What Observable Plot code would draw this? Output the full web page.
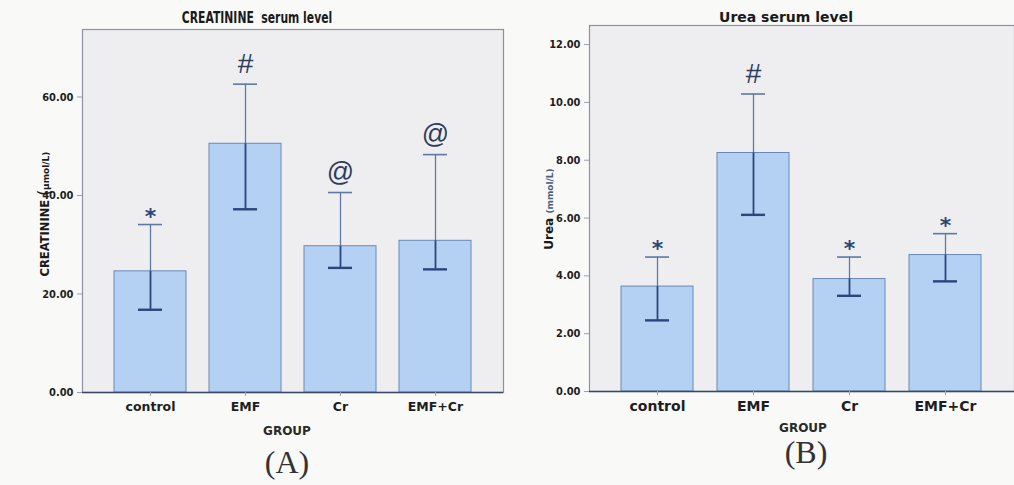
<!DOCTYPE html>
<html>
<head>
<meta charset="utf-8">
<script src="https://cdn.jsdelivr.net/npm/d3@7"></script>
<script src="https://cdn.jsdelivr.net/npm/@observablehq/plot@0.6"></script>
<style>
  html, body { margin: 0; padding: 0; background: #f9f9f7; }
  #root { position: relative; width: 1014px; height: 485px; overflow: hidden; background: #f9f9f7; }
  .abs { position: absolute; white-space: nowrap; }
  .svgwrap { position: absolute; top: 0; }
  .title { transform: translate(-50%, -50%); color: #1a1a1a; }
  .ylab { transform: translate(-50%, -50%) rotate(-90deg); color: #1a1a1a; font-family: "DejaVu Sans", sans-serif; font-weight: bold; }
  .group { transform: translate(-50%, -50%); font-family: "DejaVu Sans", sans-serif; font-weight: bold; font-size: 12px; color: #2a2a2a; }
  .panel { transform: translate(-50%, -50%); font-family: "Liberation Serif", "DejaVu Serif", serif; font-size: 32px; color: #333; }
</style>
</head>
<body>
<div id="root">
  <div id="svgA" class="svgwrap" style="left:0px"></div>
  <div id="svgB" class="svgwrap" style="left:510px"></div>
  <div class="abs title" style="left:257px; top:18px; transform:translate(-50%,-50%) scaleX(0.72); font-family:'DejaVu Sans',sans-serif; font-weight:bold; font-size:15px;">CREATININE&nbsp; serum level</div>
  <div class="abs title" style="left:786px; top:17px; font-family:'DejaVu Sans',sans-serif; font-weight:bold; font-size:14px;">Urea serum level</div>
  <div class="abs ylab" style="left:44px; top:214px; font-size:11.5px;">CREATININE <span style="font-size:15px;font-weight:normal">(</span><span style="font-size:9px">µmol/L)</span></div>
  <div class="abs ylab" style="left:549px; top:209px; font-size:12px;">Urea <span style="font-size:9px; color:#4b5f86">(mmol/L)</span></div>
  <div class="abs group" style="left:287px; top:431px;">GROUP</div>
  <div class="abs group" style="left:803px; top:428px;">GROUP</div>
  <div class="abs panel" style="left:287px; top:462px;">(A)</div>
  <div class="abs panel" style="left:806px; top:452px;">(B)</div>
</div>
<script>
// ---- data ----
const groups = ["control", "EMF", "Cr", "EMF+Cr"];

const creatMean = [24.6, 50.5, 29.7, 30.8];
const creatLow  = [16.8, 37.2, 25.3, 25.0];
const creatHigh = [34.1, 62.6, 40.6, 48.3];
const creatMarks = ["*", "#", "@", "@"];
const creatTicks = [0, 20, 40, 60];

const ureaMean = [3.63, 8.25, 3.89, 4.72];
const ureaLow  = [2.46, 6.11, 3.31, 3.81];
const ureaHigh = [4.65, 10.29, 4.65, 5.46];
const ureaMarks = ["*", "#", "*", "*"];
const ureaTicks = [0, 2, 4, 6, 8, 10, 12];

function rows(mean, low, high, marks) {
  return groups.map((g, i) => ({group: g, mean: mean[i], low: low[i], high: high[i], mark: marks[i]}));
}

function panel({data, ticks, yMax, width, height, margins, tickFont}) {
  const navy = "#2c4679";
  const light = "#5e77a3";
  return Plot.plot({
    width, height,
    marginLeft: margins[0], marginRight: margins[1], marginTop: margins[2], marginBottom: margins[3],
    style: {background: "transparent", fontFamily: "'DejaVu Sans', sans-serif", color: "#1e1e1e"},
    x: {type: "band", domain: groups, paddingInner: 0.245, paddingOuter: 0.335, label: null},
    y: {domain: [0, yMax], label: null},
    marks: [
      Plot.frame({fill: "#eeeef0", stroke: "#8a91a9", strokeWidth: 1.2}),
      Plot.barY(data, {x: "group", y: "mean", fill: "#b4d1f3", stroke: "#6a88b6", strokeWidth: 1}),
      Plot.ruleX(data, {x: "group", y1: "mean", y2: "high", stroke: light, strokeWidth: 1.3}),
      Plot.ruleX(data, {x: "group", y1: "low", y2: "mean", stroke: navy, strokeWidth: 1.8}),
      Plot.tickY(data, {x: "group", y: "high", stroke: light, strokeWidth: 1.6, insetLeft: 24, insetRight: 24}),
      Plot.tickY(data, {x: "group", y: "low", stroke: navy, strokeWidth: 2.4, insetLeft: 24, insetRight: 24}),
      Plot.ruleY([0], {stroke: "#3a4766", strokeWidth: 1.6}),
      Plot.text(data.filter(d => d.mark === "*"), {x: "group", y: "high", text: "mark", dy: -8, fontSize: 22, fontWeight: "bold", fill: "#2e4676", fontFamily: "DejaVu Sans, sans-serif"}),
      Plot.text(data.filter(d => d.mark === "#"), {x: "group", y: "high", text: "mark", dy: -20, fontSize: 28, fill: "#2e3d5e", fontFamily: "Liberation Sans, sans-serif"}),
      Plot.text(data.filter(d => d.mark === "@"), {x: "group", y: "high", text: "mark", dy: -20, fontSize: 27, fill: "#2e3d5e", fontFamily: "Liberation Sans, sans-serif"}),
      Plot.axisY({ticks, tickFormat: d3.format(".2f"), tickSize: 5, tickPadding: 4, fontSize: 11, fontWeight: "bold", fontFamily: "'DejaVu Sans Condensed', 'DejaVu Sans', sans-serif", stroke: "#9aa0b4", fill: "#1e1e1e", label: null}),
      Plot.axisX({tickSize: 4, tickPadding: 6, fontSize: tickFont, fontWeight: "bold", stroke: "#9aa0b4", fill: "#1e1e1e", label: null})
    ]
  });
}

document.getElementById("svgA").append(panel({
  data: rows(creatMean, creatLow, creatHigh, creatMarks),
  ticks: creatTicks, yMax: 73.7, width: 510, height: 445,
  margins: [82, 7, 29, 53], tickFont: 12.5
}));
document.getElementById("svgB").append(panel({
  data: rows(ureaMean, ureaLow, ureaHigh, ureaMarks),
  ticks: ureaTicks, yMax: 12.66, width: 504, height: 445,
  margins: [79, 0, 25, 54], tickFont: 14
}));
</script>
</body>
</html>
